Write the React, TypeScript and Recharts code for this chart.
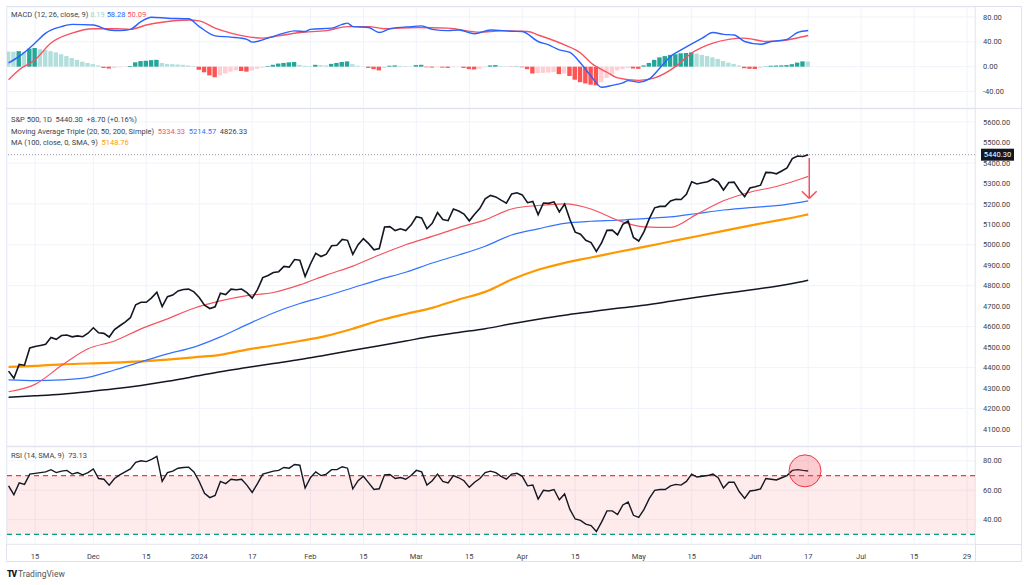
import React from 'react';
import {
  ComposedChart, Line, Bar, Cell, XAxis, YAxis, CartesianGrid,
  ReferenceLine, ReferenceArea, ReferenceDot,
} from 'recharts';

// x = trading-day index: 0 = 8 Nov 2023, 151 = 17 Jun 2024 (last bar)
const tickIdx = [5, 16, 26, 36, 46, 57, 67, 77, 87, 97, 107, 119, 129, 141, 151, 161, 171, 181];
const tickLabels = ['15', 'Dec', '15', '2024', '17', 'Feb', '15', 'Mar', '15', 'Apr', '15', 'May', '15', 'Jun', '17', 'Jul', '15', '29'];

const closes = [
  4382.8, 4347.4, 4415.2, 4411.6, 4495.7, 4502.9, 4508.2, 4514.0, 4547.4, 4538.2,
  4556.6, 4559.3, 4550.4, 4554.9, 4550.6, 4567.8, 4594.6, 4569.8, 4567.2, 4549.3,
  4585.6, 4604.4, 4622.4, 4643.7, 4707.1, 4719.6, 4719.2, 4740.6, 4768.4, 4698.4,
  4746.8, 4754.6, 4774.8, 4781.6, 4783.4, 4769.8, 4742.8, 4704.8, 4688.7, 4697.2,
  4763.5, 4756.5, 4783.5, 4780.2, 4783.8, 4766.0, 4739.2, 4780.9, 4839.8, 4850.4,
  4864.6, 4868.6, 4894.2, 4891.0, 4927.9, 4925.0, 4845.7, 4906.2, 4958.6, 4942.8,
  4954.2, 4995.1, 4997.9, 5026.6, 5021.8, 4953.2, 5000.6, 5029.7, 5005.6, 4975.5,
  4981.8, 5087.0, 5088.8, 5069.5, 5078.2, 5069.8, 5096.3, 5137.1, 5130.9, 5078.7,
  5104.8, 5157.4, 5123.7, 5117.9, 5175.3, 5165.3, 5150.5, 5117.1, 5149.4, 5178.5,
  5224.6, 5241.5, 5234.2, 5218.2, 5203.6, 5248.5, 5254.4, 5243.8, 5205.8, 5211.5,
  5147.2, 5204.3, 5202.4, 5209.9, 5160.6, 5199.1, 5123.4, 5061.8, 5051.4, 5022.2,
  5011.1, 4967.2, 5010.6, 5070.6, 5071.6, 5048.4, 5100.0, 5116.2, 5035.7, 5018.4,
  5064.2, 5127.8, 5180.7, 5187.7, 5187.7, 5214.1, 5222.7, 5221.4, 5246.7, 5308.2,
  5297.1, 5303.3, 5308.1, 5321.4, 5307.0, 5267.8, 5304.7, 5306.0, 5266.9, 5235.5,
  5277.5, 5283.4, 5291.3, 5354.0, 5352.9, 5347.0, 5360.8, 5375.3, 5421.0, 5433.7,
  5431.6, 5440.3,
];

// moving averages, every 5 bars
const maIdx = [0, 5, 10, 15, 20, 25, 30, 35, 40, 45, 50, 55, 60, 65, 70, 75, 80, 85, 90, 95, 100, 105, 110, 115, 120, 125, 130, 135, 140, 145, 150, 151];
const sma20 = [4282, 4318, 4410, 4492, 4530, 4589, 4638, 4690, 4726, 4752, 4767, 4804, 4852, 4896, 4950, 5000, 5041, 5084, 5122, 5175, 5192, 5200, 5175, 5120, 5088, 5085, 5150, 5215, 5257, 5285, 5325, 5334.33];
const sma50 = [4340, 4336, 4340, 4352, 4388, 4428, 4467, 4500, 4550, 4610, 4667, 4713, 4750, 4790, 4830, 4866, 4911, 4950, 4993, 5048, 5078, 5105, 5115, 5120, 5128, 5136, 5153, 5170, 5182, 5191, 5210, 5214.57];
const sma200 = [4255, 4262, 4270, 4282, 4296, 4313, 4333, 4356, 4380, 4400, 4420, 4439, 4462, 4485, 4507, 4530, 4553, 4572, 4590, 4614, 4636, 4656, 4673, 4690, 4705, 4724, 4744, 4762, 4779, 4798, 4821, 4826.33];
const ma100 = [4403, 4408, 4416, 4420, 4424, 4430, 4439, 4450, 4462, 4488, 4508, 4530, 4555, 4590, 4630, 4662, 4692, 4733, 4770, 4830, 4878, 4912, 4938, 4965, 4990, 5016, 5042, 5068, 5094, 5118, 5143, 5148.76];

// MACD (12, 26, 9)
const macdIdx = [0, 2, 5, 7, 10, 12, 16, 19, 21, 23, 25, 27, 30, 34, 36, 39, 42, 45, 46, 49, 52, 54, 56, 57, 61, 63, 64, 65, 68, 70, 72, 76, 78, 80, 83, 85, 88, 91, 95, 97, 100, 102, 104, 106, 108, 110, 112, 114, 116, 117, 119, 121, 123, 125, 127, 131, 133, 135, 137, 139, 142, 144, 147, 149, 151];
const macdVals = [6, 16.5, 38, 54, 64.5, 68, 67, 59, 58, 60, 72.5, 79.5, 78, 77, 64.5, 49.6, 47.5, 44, 39.5, 46, 54, 57.6, 56.5, 60, 62, 68, 70, 64.5, 63, 55, 61, 64.5, 65.6, 60, 58, 59, 53, 59, 57, 56.5, 40.5, 35, 27, 23, 6, -15.5, -33, -30, -26, -22.5, -25, -19.7, -2, 16.5, 27, 46, 55, 52, 51, 40.5, 36, 40.5, 44, 55, 58.28];
const signalIdx = [0, 2, 5, 8, 12, 16, 20, 23, 26, 29, 34, 36, 39, 42, 48, 51, 55, 60, 64, 68, 71, 77, 83, 89, 93, 98, 100, 105, 108, 110, 113, 115, 119, 122, 126, 129, 133, 136, 139, 143, 147, 151];
const signalVals = [-21, -5, 11, 38, 54, 61, 61, 60, 67, 71.5, 75, 73.6, 62, 54, 46, 49.6, 55, 58, 64.5, 64.5, 61, 63, 62, 55.5, 57.6, 56.5, 51, 35, 22, 6, -9, -18, -22, -18, 0.5, 22, 38, 44, 46, 40.5, 43, 50.09];
const hist = [
  24.5, 24, 25, 24, 29, 30, 28, 27, 25, 23,
  20, 17, 14, 11, 8, 6, 4, 2, -2, -3,
  -2, -1, -0.5, 1, 7, 9, 9.5, 10.5, 11, 6,
  4.5, 4, 3.5, 3, 2, 1, -5, -9, -14, -17,
  -14, -11, -8, -6, -7, -8, -6, -3.5, -1.5, 1,
  3, 5, 6, 7, 7.5, 3, 1.5, 1, 3, 2.5,
  2, 4.5, 6, 7.5, 8.5, 4, 1.5, 0.5, -2, -4,
  -6, -2, 1.5, 2, 1.5, 1, 0.5, 2.5, 3, -1,
  -1.5, -1, -1.5, -2, -1, -0.5, -2, -4, -4.5, -3.5,
  -1, 2, 2.5, 1, 0.5, -0.5, 0.5, -1, -4, -11,
  -10.5, -10, -9.5, -9, -12, -11, -15, -21, -25, -27,
  -29, -30, -25, -18, -12, -6, -4, -2, -3, -3.5,
  2, 6, 11, 15, 17, 19, 20, 21.5, 22, 23,
  21, 19, 17, 15, 12.5, 9, 6.5, 4.5, 2, -2.5,
  -3.5, -3.7, -2, 0.5, 1.5, 1.8, 2, 2.5, 4, 6.5,
  8.5, 8.19,
];

// RSI (14)
const rsi = [
  63, 57, 65, 64, 71, 71.5, 72, 72.5, 74, 72,
  73, 73.5, 71, 72, 70.5, 72, 74.5, 68, 67.5, 63.5,
  68, 70.5, 72.5, 74.5, 79, 80, 79.5, 81, 83, 66,
  72, 73, 75, 75.5, 75.7, 72.5, 66, 58, 55, 56.5,
  66, 64.5, 67.5, 67, 67.5, 63.5, 58.5, 64.5, 71, 72,
  73, 73.5, 75.5, 75, 77.5, 77, 61.5, 68.5, 72.5, 70,
  71, 74, 74, 76, 75, 61, 66.5, 69.5, 65, 60.5,
  61, 70.5, 70.7, 68, 68.7, 67.5, 70, 73.5, 72.5, 63.5,
  66.5, 71, 66, 65, 70, 68.5, 66.5, 62, 65.5, 68,
  72, 73, 72, 69.5, 67.5, 71, 71.5, 69.5, 63, 63.5,
  54, 60, 59.5, 60.5, 53.5, 57.5, 47, 40.5, 39.5, 37,
  36, 32, 38.5, 46, 46, 43.5, 50, 52, 43, 41.5,
  47, 54.5, 60, 60.5, 60.5, 63, 64, 63.5, 66, 71,
  69, 69.5, 70, 71, 68.5, 61.5, 65.5, 65.5, 59, 54.5,
  59.5, 60, 61, 68, 67.5, 67, 68.5, 70, 73.5, 74,
  73.5, 73.13,
];

const lastPrice = 5440.3;
// annotation arrow under the last bar (data units)
const arrowX = 151.2;
const arrowTop = 5424;
const arrowTip = 5227;
const arrowWing = 5262;
const arrowHalf = 1.4;
const rsiMarkX = 150.4;
const rsiMarkY = 73.2;

const FONT = 'Roboto, "Noto Sans", sans-serif';
const TXT = '#3b3f4a';
const GRID = '#f0f3fa';
const BORDER = '#e0e3eb';
const X_DOMAIN: [number, number] = [-0.3, 182.5];

const pick = (idx: number[], vals: number[], i: number) => {
  const k = idx.indexOf(i);
  return k >= 0 ? vals[k] : null;
};

const priceRows = closes.map((c, i) => ({
  i,
  close: c,
  sma20: pick(maIdx, sma20, i),
  sma50: pick(maIdx, sma50, i),
  sma200: pick(maIdx, sma200, i),
  ma100: pick(maIdx, ma100, i),
}));

const macdRows = hist.map((h, i) => ({
  i,
  hist: h,
  macd: pick(macdIdx, macdVals, i),
  signal: pick(signalIdx, signalVals, i),
}));

const rsiRows = rsi.map((r, i) => ({ i, rsi: r }));

const histColor = (i: number) => {
  const v = hist[i];
  const prev = i > 0 ? hist[i - 1] : v;
  if (v >= 0) return v > prev ? '#26a69a' : '#b2dfdb';
  return v < prev ? '#ff5252' : '#ffcdd2';
};

const tickStyle = { fontSize: 7.5, fill: TXT, fontFamily: FONT };

const yAxisProps = {
  orientation: 'right' as const,
  width: 49,
  axisLine: false,
  tickLine: false,
  tickSize: 0,
  tickMargin: 8,
  tick: tickStyle,
  allowDataOverflow: true,
  tickFormatter: (v: number) => v.toFixed(2),
};

const PriceTag = (props: any) => {
  const vb = props.viewBox;
  if (!vb) return null;
  const x = vb.x + vb.width + 6;
  return (
    <g>
      <rect x={x} y={vb.y - 6} width={33} height={12} fill="#131722" />
      <text x={x + 16.5} y={vb.y} dy="0.35em" textAnchor="middle" fontSize={7.5} fill="#fff" fontFamily={FONT}>
        {lastPrice.toFixed(2)}
      </text>
    </g>
  );
};

const legendRow = (top: number, children: React.ReactNode) => (
  <div style={{ position: 'absolute', left: 11, top, fontSize: 7.5, lineHeight: '10px', color: TXT, fontFamily: FONT, whiteSpace: 'pre', zIndex: 2 }}>
    {children}
  </div>
);

export default function App() {
  return (
    <div style={{ position: 'fixed', left: 0, top: 0, width: 1024, height: 585, background: '#fff', overflow: 'hidden' }}>
      {/* frame */}
      <div style={{ position: 'absolute', left: 6, top: 6, width: 1016, height: 556, border: `1px solid ${BORDER}`, boxSizing: 'border-box' }} />
      <div style={{ position: 'absolute', left: 975, top: 6, width: 1, height: 556, background: BORDER }} />
      <div style={{ position: 'absolute', left: 6, top: 108, width: 1016, height: 1, background: BORDER }} />
      <div style={{ position: 'absolute', left: 6, top: 446, width: 1016, height: 1, background: BORDER }} />
      <div style={{ position: 'absolute', left: 6, top: 544, width: 1016, height: 1, background: BORDER }} />

      {/* MACD pane */}
      <div style={{ position: 'absolute', left: 0, top: 7, zIndex: 1 }}>
        <ComposedChart width={1024} height={101} data={macdRows} margin={{ top: 0, right: 0, bottom: 0, left: 7 }}>
          <CartesianGrid stroke={GRID} />
          <XAxis dataKey="i" type="number" domain={X_DOMAIN} ticks={tickIdx} allowDataOverflow hide />
          <YAxis {...yAxisProps} domain={[-66.5, 96]} ticks={[-40, 0, 40, 80]} />
          <Bar dataKey="hist" barSize={4.4} isAnimationActive={false}>
            {macdRows.map((r) => <Cell key={r.i} fill={histColor(r.i)} />)}
          </Bar>
          <Line dataKey="signal" type="monotone" stroke="#f7525f" strokeWidth={1.4} dot={false} connectNulls isAnimationActive={false} />
          <Line dataKey="macd" type="monotone" stroke="#2962ff" strokeWidth={1.4} dot={false} connectNulls isAnimationActive={false} />
        </ComposedChart>
      </div>
      {legendRow(10, <>MACD (12, 26, close, 9) <span style={{ color: '#9ed3cc' }}>8.19</span> <span style={{ color: '#2962ff' }}>58.28</span> <span style={{ color: '#f7525f' }}>50.09</span></>)}

      {/* price pane */}
      <div style={{ position: 'absolute', left: 0, top: 109, zIndex: 1 }}>
        <ComposedChart width={1024} height={337} data={priceRows} margin={{ top: 0, right: 0, bottom: 0, left: 7 }}>
          <CartesianGrid stroke={GRID} />
          <XAxis dataKey="i" type="number" domain={X_DOMAIN} ticks={tickIdx} allowDataOverflow hide />
          <YAxis {...yAxisProps} domain={[4016.8, 5663.6]} ticks={[4100, 4200, 4300, 4400, 4500, 4600, 4700, 4800, 4900, 5000, 5100, 5200, 5300, 5400, 5500, 5600]} />
          <ReferenceLine y={lastPrice} stroke="#9598a1" strokeDasharray="1 2" label={<PriceTag />} />
          <Line dataKey="sma200" type="monotone" stroke="#131722" strokeWidth={1.5} dot={false} connectNulls isAnimationActive={false} />
          <Line dataKey="ma100" type="monotone" stroke="#ff9800" strokeWidth={2.2} dot={false} connectNulls isAnimationActive={false} />
          <Line dataKey="sma50" type="monotone" stroke="#3372ff" strokeWidth={1.2} dot={false} connectNulls isAnimationActive={false} />
          <Line dataKey="sma20" type="monotone" stroke="#f5535e" strokeWidth={1.2} dot={false} connectNulls isAnimationActive={false} />
          <Line dataKey="close" type="linear" stroke="#131722" strokeWidth={1.6} dot={false} isAnimationActive={false} />
          <ReferenceLine segment={[{ x: arrowX, y: arrowTop }, { x: arrowX, y: arrowTip }]} stroke="#f7525f" strokeWidth={1.5} ifOverflow="visible" />
          <ReferenceLine segment={[{ x: arrowX - arrowHalf, y: arrowWing }, { x: arrowX, y: arrowTip }]} stroke="#f7525f" strokeWidth={1.5} ifOverflow="visible" />
          <ReferenceLine segment={[{ x: arrowX, y: arrowTip }, { x: arrowX + arrowHalf, y: arrowWing }]} stroke="#f7525f" strokeWidth={1.5} ifOverflow="visible" />
        </ComposedChart>
      </div>
      {legendRow(115, <>S&amp;P 500, 1D  5440.30  +8.70 (+0.16%)</>)}
      {legendRow(126.5, <>Moving Average Triple (20, 50, 200, Simple)  <span style={{ color: '#f5535e' }}>5334.33</span>  <span style={{ color: '#3372ff' }}>5214.57</span>  4826.33</>)}
      {legendRow(137.5, <>MA (100, close, 0, SMA, 9)  <span style={{ color: '#ff9800' }}>5148.76</span></>)}

      {/* RSI pane + time axis */}
      <div style={{ position: 'absolute', left: 0, top: 447, zIndex: 1 }}>
        <ComposedChart width={1024} height={115} data={rsiRows} margin={{ top: 0, right: 0, bottom: 0, left: 7 }}>
          <CartesianGrid stroke={GRID} />
          <XAxis
            dataKey="i" type="number" domain={X_DOMAIN} ticks={tickIdx} allowDataOverflow
            height={18} axisLine={false} tickLine={false} tickSize={0} tickMargin={10}
            tick={tickStyle}
            tickFormatter={(v: number) => tickLabels[tickIdx.indexOf(v)] ?? ''}
          />
          <YAxis {...yAxisProps} domain={[23.5, 89.4]} ticks={[40, 60, 80]} />
          <ReferenceArea y1={30} y2={70} fill="#f23645" fillOpacity={0.1} strokeOpacity={0} />
          <ReferenceLine y={70} stroke="#ff3040" strokeWidth={1.3} strokeDasharray="5 4" />
          <ReferenceLine y={30} stroke="#089981" strokeWidth={1.3} strokeDasharray="5 4" />
          <ReferenceDot x={rsiMarkX} y={rsiMarkY} r={16} fill="#f23645" fillOpacity={0.25} stroke="#f23645" strokeWidth={1} />
          <Line dataKey="rsi" type="linear" stroke="#131722" strokeWidth={1.4} dot={false} isAnimationActive={false} />
        </ComposedChart>
      </div>
      {legendRow(451, <>RSI (14, SMA, 9)  73.13</>)}

      {/* footer */}
      <div style={{ position: 'absolute', left: 7, top: 569, fontFamily: FONT, fontSize: 8.5, color: '#555', whiteSpace: 'pre' }}>
        <span style={{ fontWeight: 900, color: '#131722', letterSpacing: -1 }}>TV</span> TradingView
      </div>
    </div>
  );
}
